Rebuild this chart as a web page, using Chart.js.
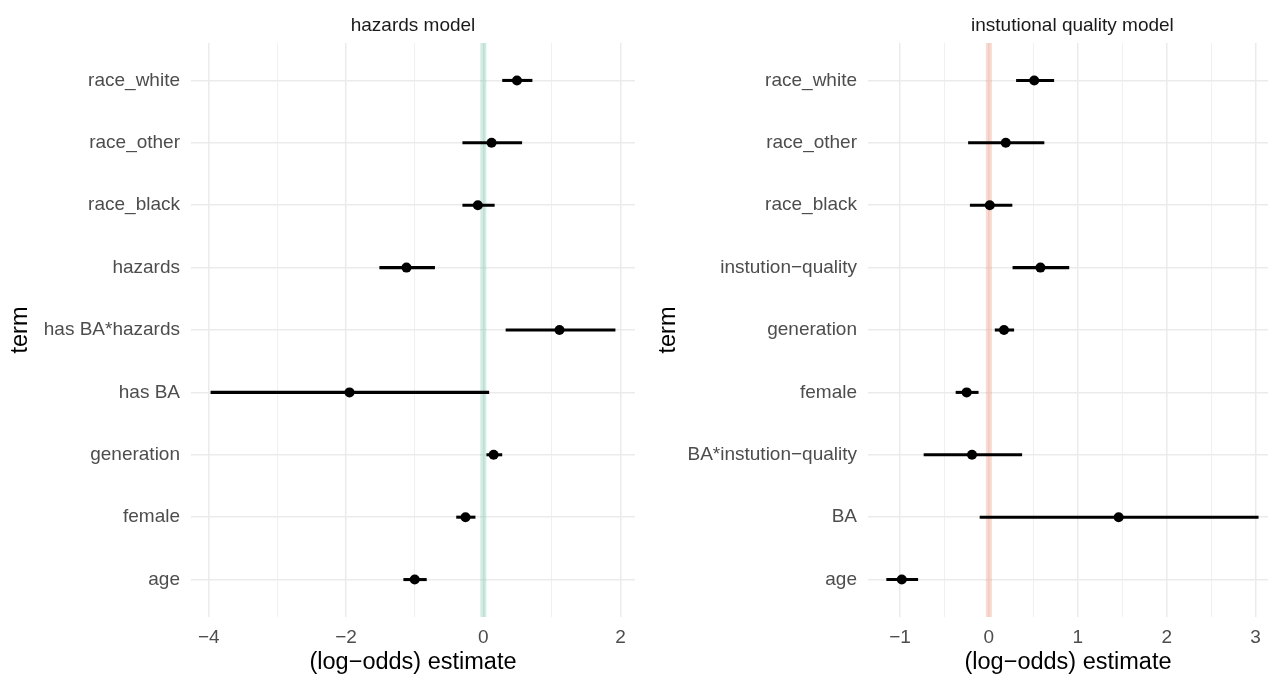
<!DOCTYPE html>
<html>
<head>
<meta charset="utf-8">
<script src="https://cdn.jsdelivr.net/npm/chart.js@4"></script>
<style>
  html, body { margin: 0; padding: 0; background: #fff; }
  #wrap { position: relative; width: 1273px; height: 677px; overflow: hidden; }
  .panel { position: absolute; top: 0; height: 677px; }
</style>
</head>
<body>
<div id="wrap">
  <div class="panel" style="left:0;width:645px"><canvas id="hazChart"></canvas></div>
  <div class="panel" style="left:645px;width:628px"><canvas id="iqChart"></canvas></div>
</div>
<script>
// ===========================
// Data (bottom row first)
// ===========================
const hazTerms = ["age", "female", "generation", "has BA", "has BA*hazards", "hazards", "race_black", "race_other", "race_white"];
const hazEst = [-1.00, -0.26, 0.15, -1.95, 1.11, -1.12, -0.08, 0.12, 0.49];
const hazLo  = [-1.16, -0.39, 0.05, -3.97, 0.33, -1.51, -0.30, -0.30, 0.28];
const hazHi  = [-0.83, -0.12, 0.27, 0.08, 1.92, -0.71, 0.16, 0.56, 0.71];
const hazTicks = [-4, -3, -2, -1, 0, 1, 2];

const iqTerms = ["age", "BA", "BA*instution\u2212quality", "female", "generation", "instution\u2212quality", "race_black", "race_other", "race_white"];
const iqEst = [-0.98, 1.46, -0.19, -0.25, 0.17, 0.58, 0.01, 0.19, 0.51];
const iqLo  = [-1.15, -0.10, -0.73, -0.37, 0.07, 0.27, -0.21, -0.23, 0.31];
const iqHi  = [-0.80, 3.03, 0.37, -0.12, 0.28, 0.90, 0.26, 0.62, 0.73];
const iqTicks = [-1, -0.5, 0, 0.5, 1, 1.5, 2, 2.5, 3];

const FONT = "'Liberation Sans', Arial, sans-serif";
const GRID = "#ebebeb";

function fmt(v) {
    return v < 0 ? "\u2212" + Math.abs(v) : String(v);
}

// vertical band at zero + facet title
const zeroBand = {
    id: "zeroBand",
    beforeDatasetsDraw(chart, args, opts) {
        const { ctx, chartArea } = chart;
        const x = chart.scales.x.getPixelForValue(0);
        ctx.save();
        ctx.fillStyle = opts.color;
        ctx.fillRect(x - opts.width / 2, chartArea.top, opts.width, chartArea.bottom - chartArea.top);
        ctx.restore();
    },
    afterDraw(chart, args, opts) {
        const { ctx } = chart;
        const cx = chart.scales.x.getPixelForValue(opts.titleAt);
        ctx.save();
        ctx.font = "19px " + FONT;
        ctx.fillStyle = "#1a1a1a";
        ctx.textAlign = "center";
        ctx.textBaseline = "alphabetic";
        ctx.fillText(opts.title, cx, 31);
        ctx.restore();
    }
};

function makeChart(id, cfg) {
    const ctx = document.getElementById(id).getContext("2d");
    return new Chart(ctx, {
        type: "bar",
        data: {
            datasets: [
                {
                    type: "scatter",
                    order: 0,
                    data: cfg.est.map((v, i) => ({ x: v, y: i })),
                    pointRadius: 5,
                    pointHoverRadius: 5,
                    backgroundColor: "#000",
                    borderWidth: 0
                },
                {
                    type: "bar",
                    order: 1,
                    data: cfg.lo.map((v, i) => ({ x: [v, cfg.hi[i]], y: i })),
                    backgroundColor: "#000",
                    barThickness: 2.4,
                    borderSkipped: false
                }
            ]
        },
        options: {
            indexAxis: "y",
            responsive: true,
            maintainAspectRatio: false,
            animation: false,
            layout: { padding: { top: 43, right: cfg.padRight, left: 0, bottom: 0 } },
            plugins: {
                legend: { display: false },
                tooltip: { enabled: false },
                zeroBand: { color: cfg.band, width: 6, title: cfg.title, titleAt: cfg.titleAt }
            },
            scales: {
                x: {
                    type: "linear",
                    min: cfg.xMin,
                    max: cfg.xMax,
                    offset: false,
                    afterBuildTicks: s => { s.ticks = cfg.ticks.map(v => ({ value: v })); },
                    afterFit: s => { s.height = 60; },
                    border: { display: false },
                    grid: {
                        color: GRID,
                        drawTicks: false,
                        offset: false,
                        lineWidth: c => (c.tick && Number.isInteger(c.tick.value / cfg.major)) ? 1.5 : 0.75
                    },
                    ticks: {
                        autoSkip: false,
                        maxRotation: 0,
                        padding: 9,
                        color: "#4d4d4d",
                        font: { family: FONT, size: 19 },
                        callback: v => Number.isInteger(v / cfg.major) ? fmt(v) : ""
                    },
                    title: {
                        display: true,
                        text: "(log\u2212odds) estimate",
                        color: "#000",
                        font: { family: FONT, size: 23.5 },
                        padding: 0
                    }
                },
                y: {
                    type: "linear",
                    min: -0.6,
                    max: 8.6,
                    offset: false,
                    afterBuildTicks: s => { s.ticks = cfg.terms.map((t, i) => ({ value: i })); },
                    afterFit: s => { s.width = cfg.yWidth; },
                    border: { display: false },
                    grid: { color: GRID, drawTicks: false, offset: false, lineWidth: 1.5 },
                    ticks: {
                        autoSkip: false,
                        padding: 11,
                        color: "#4d4d4d",
                        font: { family: FONT, size: 19 },
                        callback: v => cfg.terms[v]
                    },
                    title: {
                        display: true,
                        text: "term",
                        color: "#000",
                        font: { family: FONT, size: 23.5 },
                        padding: { top: cfg.titlePad, bottom: 0 }
                    }
                }
            }
        },
        plugins: [zeroBand]
    });
}

window.onload = function () {
    makeChart("hazChart", {
        terms: hazTerms, est: hazEst, lo: hazLo, hi: hazHi, ticks: hazTicks, major: 2,
        xMin: -4.26, xMax: 2.21, yWidth: 191, padRight: 10, titlePad: 6,
        band: "rgba(27,158,119,0.2)", title: "hazards model", titleAt: (-4.26 + 2.21) / 2
    });
    makeChart("iqChart", {
        terms: iqTerms, est: iqEst, lo: iqLo, hi: iqHi, ticks: iqTicks, major: 1,
        xMin: -1.36, xMax: 3.14, yWidth: 223, padRight: 0, titlePad: 9,
        band: "rgba(240,110,70,0.25)", title: "instutional quality model", titleAt: (-1.36 + 3.24) / 2
    });
};
</script>
</body>
</html>
